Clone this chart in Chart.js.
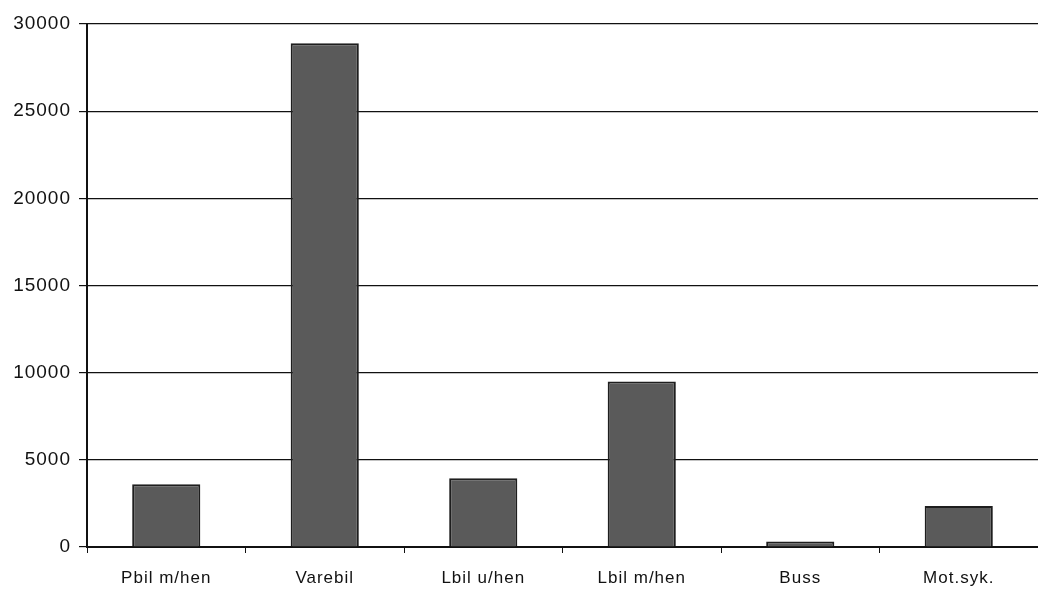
<!DOCTYPE html>
<html>
<head>
<meta charset="utf-8">
<script src="https://cdn.jsdelivr.net/npm/chart.js@4"></script>
<style>
  html, body { margin: 0; padding: 0; background: #fff; }
  #wrap { width: 1038px; height: 589px; }
  canvas { letter-spacing: 1px; }
</style>
</head>
<body>
<div id="wrap"><canvas id="chart"></canvas></div>
<script>
const categories = ['Pbil m/hen', 'Varebil', 'Lbil u/hen', 'Lbil m/hen', 'Buss', 'Mot.syk.']
const values = [3600, 28900, 3950, 9500, 320, 2350]
const yTicks = [0, 5000, 10000, 15000, 20000, 25000, 30000]

const ctx = document.getElementById('chart')
new Chart(ctx, {
  type: 'bar',
  data: {
    labels: categories,
    datasets: [{
      data: values,
      backgroundColor: '#5a5a5a',
      borderColor: '#1e1e1e',
      borderWidth: 2,
      barPercentage: 0.43,
      categoryPercentage: 1
    }]
  },
  options: {
    responsive: true,
    maintainAspectRatio: false,
    animation: false,
    layout: { padding: { top: 24, right: 0, left: 0, bottom: 0 } },
    plugins: {
      legend: { display: false },
      tooltip: { enabled: false }
    },
    scales: {
      x: {
        grid: {
          offset: true,
          drawOnChartArea: false,
          drawTicks: true,
          tickLength: 6,
          color: '#111'
        },
        border: { color: '#111', width: 2 },
        ticks: {
          color: '#111',
          font: { family: 'Liberation Sans, Arial, sans-serif', size: 17 },
          padding: 15,
          maxRotation: 0
        },
        afterFit: scale => { scale.height = 42 }
      },
      y: {
        min: 0,
        max: 30000,
        afterBuildTicks: scale => { scale.ticks = yTicks.map(v => ({ value: v })) },
        grid: {
          color: '#111',
          lineWidth: 1.2,
          tickLength: 8
        },
        border: { color: '#111', width: 2 },
        ticks: {
          color: '#111',
          font: { family: 'Liberation Sans, Arial, sans-serif', size: 19 },
          padding: 8,
          callback: v => String(v)
        },
        afterFit: scale => { scale.width = 87 }
      }
    }
  }
})
</script>
</body>
</html>
